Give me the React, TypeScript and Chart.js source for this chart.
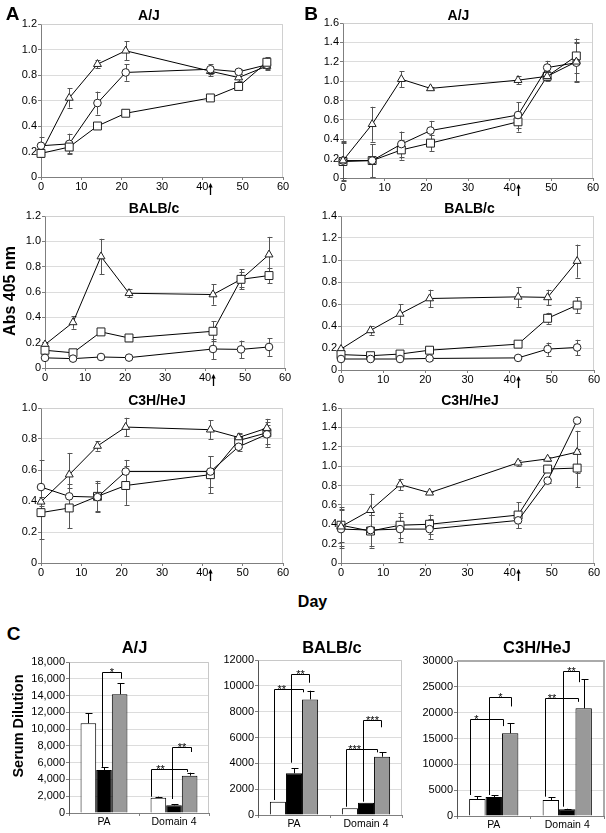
import React, { useEffect, useRef } from 'react';
import { Chart, registerables } from 'chart.js';

Chart.register(...registerables);

const FONT = '"Liberation Sans", Arial, Helvetica, sans-serif';
Chart.defaults.font.family = FONT;
Chart.defaults.color = '#000';

// ---------- Line charts (A, B) ----------
const DAYS = [0, 7, 14, 21, 42, 49, 56];
const BOOST_DAY = 42;
const X_TICKS = [0, 10, 20, 30, 40, 50, 60];

// Panel A, A/J
const A_AJ_TRI = [0.19, 0.62, 0.885, 0.99, 0.83, 0.78, 0.87];
const A_AJ_TRI_ERR = [0.02, 0.075, 0.03, 0.075, 0.04, 0.03, 0.03];
const A_AJ_CIRC = [0.245, 0.26, 0.58, 0.82, 0.845, 0.825, 0.88];
const A_AJ_CIRC_ERR = [0.07, 0.08, 0.09, 0.065, 0.04, 0.02, 0.03];
const A_AJ_SQ = [0.185, 0.235, 0.4, 0.5, 0.62, 0.71, 0.9];
const A_AJ_SQ_ERR = [0.03, 0.05, 0.01, 0.01, 0.01, 0.01, 0.04];

// Panel B, A/J
const B_AJ_TRI = [0.18, 0.555, 1.02, 0.925, 1.01, 1.05, 1.2];
const B_AJ_TRI_ERR = [0.18, 0.18, 0.08, 0.01, 0.04, 0.04, 0.2];
const B_AJ_CIRC = [0.18, 0.18, 0.35, 0.49, 0.65, 1.14, 1.19];
const B_AJ_CIRC_ERR = [0.2, 0.17, 0.13, 0.1, 0.13, 0.07, 0.2];
const B_AJ_SQ = [0.17, 0.18, 0.29, 0.36, 0.58, 1.05, 1.26];
const B_AJ_SQ_ERR = [0.2, 0.17, 0.1, 0.08, 0.1, 0.05, 0.18];

// Panel A, BALB/c
const A_BALB_TRI = [0.185, 0.36, 0.88, 0.59, 0.58, 0.7, 0.895];
const A_BALB_TRI_ERR = [0.01, 0.05, 0.14, 0.03, 0.08, 0.08, 0.14];
const A_BALB_SQ = [0.14, 0.12, 0.285, 0.237, 0.29, 0.7, 0.73];
const A_BALB_SQ_ERR = [0.01, 0.01, 0.01, 0.01, 0.08, 0.06, 0.06];
const A_BALB_CIRC = [0.08, 0.074, 0.087, 0.082, 0.15, 0.147, 0.166];
const A_BALB_CIRC_ERR = [0.01, 0.01, 0.01, 0.01, 0.08, 0.07, 0.07];

// Panel B, BALB/c
const B_BALB_TRI = [0.19, 0.36, 0.51, 0.65, 0.665, 0.66, 0.99];
const B_BALB_TRI_ERR = [0.01, 0.04, 0.09, 0.08, 0.09, 0.07, 0.15];
const B_BALB_SQ = [0.14, 0.13, 0.145, 0.18, 0.235, 0.47, 0.59];
const B_BALB_SQ_ERR = [0.01, 0.01, 0.01, 0.01, 0.03, 0.05, 0.07];
const B_BALB_CIRC = [0.1, 0.1, 0.1, 0.105, 0.11, 0.19, 0.205];
const B_BALB_CIRC_ERR = [0.01, 0.01, 0.01, 0.01, 0.01, 0.06, 0.07];

// Panel A, C3H/HeJ
const A_C3H_TRI = [0.395, 0.57, 0.755, 0.877, 0.86, 0.81, 0.87];
const A_C3H_TRI_ERR = [0.03, 0.14, 0.03, 0.06, 0.06, 0.03, 0.04];
const A_C3H_CIRC = [0.49, 0.43, 0.425, 0.59, 0.59, 0.75, 0.83];
const A_C3H_CIRC_ERR = [0.175, 0.08, 0.09, 0.075, 0.1, 0.03, 0.06];
const A_C3H_SQ = [0.325, 0.355, 0.43, 0.5, 0.57, 0.79, 0.84];
const A_C3H_SQ_ERR = [0.17, 0.13, 0.1, 0.125, 0.12, 0.04, 0.09];

// Panel B, C3H/HeJ
const B_C3H_TRI = [0.375, 0.545, 0.81, 0.725, 1.035, 1.075, 1.145];
const B_C3H_TRI_ERR = [0.2, 0.17, 0.06, 0.01, 0.03, 0.02, 0.22];
const B_C3H_SQ = [0.39, 0.33, 0.39, 0.4, 0.495, 0.97, 0.98];
const B_C3H_SQ_ERR = [0.17, 0.17, 0.13, 0.1, 0.13, 0.03, 0.2];
const B_C3H_CIRC = [0.35, 0.34, 0.35, 0.35, 0.44, 0.85, 1.47];
const B_C3H_CIRC_ERR = [0.2, 0.16, 0.13, 0.1, 0.08, 0.02, 0.01];

// ---------- Bar charts (C) ----------
const BAR_CATEGORIES = ['PA', 'Domain 4'];

const C_AJ_WHITE = [10690, 1830];
const C_AJ_WHITE_ERR = [1190, 120];
const C_AJ_BLACK = [5120, 920];
const C_AJ_BLACK_ERR = [330, 120];
const C_AJ_GREY = [14150, 4450];
const C_AJ_GREY_ERR = [1310, 350];

const C_BALB_WHITE = [1030, 520];
const C_BALB_WHITE_ERR = [0, 0];
const C_BALB_BLACK = [3230, 950];
const C_BALB_BLACK_ERR = [380, 0];
const C_BALB_GREY = [8950, 4510];
const C_BALB_GREY_ERR = [670, 340];

const C_C3H_WHITE = [3290, 3100];
const C_C3H_WHITE_ERR = [580, 500];
const C_C3H_BLACK = [3680, 1300];
const C_C3H_BLACK_ERR = [380, 100];
const C_C3H_GREY = [16000, 20840];
const C_C3H_GREY_ERR = [1940, 5660];

// significance brackets: category, from bar (dataset, fraction across bar), to bar, heights
const C_AJ_BRACKETS = [
  { cat: 0, a: 1, af: 0.4, b: 2, bf: 0.58, top: 16800, aBottom: 5500, bBottom: 16000, label: '*', lf: 0.5 },
  { cat: 1, a: 0, af: 0.05, b: 2, bf: 0.35, top: 5240, aBottom: 1940, bBottom: 4900, label: '**', lf: 0.25 },
  { cat: 1, a: 1, af: 0.4, b: 2, bf: 0.57, top: 7830, aBottom: 1670, bBottom: 7270, label: '**', lf: 0.5 },
];
const C_BALB_BRACKETS = [
  { cat: 0, a: 0, af: 0.25, b: 2, bf: 0.06, top: 9730, aBottom: 1160, bBottom: 9500, label: '**', lf: 0.25 },
  { cat: 0, a: 1, af: 0.3, b: 2, bf: 0.43, top: 10900, aBottom: 4050, bBottom: 10240, label: '**', lf: 0.5 },
  { cat: 1, a: 0, af: 0.27, b: 2, bf: 0.18, top: 5100, aBottom: 640, bBottom: 4850, label: '***', lf: 0.26 },
  { cat: 1, a: 1, af: 0.34, b: 2, bf: 0.43, top: 7350, aBottom: 1030, bBottom: 6790, label: '***', lf: 0.5 },
];
const C_C3H_BRACKETS = [
  { cat: 0, a: 0, af: 0.04, b: 2, bf: 0.06, top: 18770, aBottom: 4060, bBottom: 17400, label: '*', lf: 0.18 },
  { cat: 0, a: 1, af: 0.19, b: 2, bf: 0.54, top: 22970, aBottom: 4060, bBottom: 21200, label: '*', lf: 0.5 },
  { cat: 1, a: 0, af: 0.16, b: 2, bf: 0.16, top: 22900, aBottom: 3740, bBottom: 22100, label: '**', lf: 0.2 },
  { cat: 1, a: 1, af: 0.25, b: 2, bf: 0.2, top: 28100, aBottom: 1800, bBottom: 25900, label: '**', lf: 0.5 },
];

// ---------- plugins ----------
const errorBarsPlugin = {
  id: 'errorBars',
  _draw(chart: any, opts: any) {
    const ctx = chart.ctx;
    const ys = chart.scales.y;
    ctx.save();
    ctx.strokeStyle = opts.color || '#555';
    ctx.lineWidth = 1;
    chart.data.datasets.forEach((ds: any, di: number) => {
      const errs = ds.errors;
      if (!errs) return;
      const meta = chart.getDatasetMeta(di);
      meta.data.forEach((el: any, i: number) => {
        const e = errs[i];
        if (!e) return;
        const raw = ds.data[i];
        const v = typeof raw === 'number' ? raw : raw.y;
        const x = Math.round(el.x) + 0.5;
        const yTop = ys.getPixelForValue(v + e);
        const yBot = opts.upOnly ? ys.getPixelForValue(v) : ys.getPixelForValue(v - e);
        const cw = opts.cap || 2;
        ctx.beginPath();
        ctx.moveTo(x, yTop);
        ctx.lineTo(x, yBot);
        ctx.moveTo(x - cw, Math.round(yTop) + 0.5);
        ctx.lineTo(x + cw + 1, Math.round(yTop) + 0.5);
        if (!opts.upOnly) {
          ctx.moveTo(x - cw, Math.round(yBot) + 0.5);
          ctx.lineTo(x + cw + 1, Math.round(yBot) + 0.5);
        }
        ctx.stroke();
      });
    });
    ctx.restore();
  },
  beforeDatasetsDraw(chart: any, _a: any, opts: any) {
    if (!opts.upOnly) (errorBarsPlugin as any)._draw(chart, opts);
  },
  afterDatasetsDraw(chart: any, _a: any, opts: any) {
    if (opts.upOnly) (errorBarsPlugin as any)._draw(chart, opts);
  },
};

const framePlugin = {
  id: 'frame',
  beforeDatasetsDraw(chart: any, _a: any, opts: any) {
    const { ctx, chartArea } = chart;
    ctx.save();
    ctx.strokeStyle = opts.color || '#d0d0d0';
    ctx.lineWidth = opts.width || 1;
    const off = (opts.width || 1) % 2 ? 0.5 : 0;
    ctx.beginPath();
    ctx.moveTo(Math.round(chartArea.left) + off, Math.round(chartArea.top) + off);
    ctx.lineTo(Math.round(chartArea.right) - off, Math.round(chartArea.top) + off);
    ctx.lineTo(Math.round(chartArea.right) - off, Math.round(chartArea.bottom));
    ctx.stroke();
    ctx.restore();
  },
};

const arrowPlugin = {
  id: 'boostArrow',
  afterDraw(chart: any, _a: any, opts: any) {
    if (opts.day == null) return;
    const { ctx, chartArea } = chart;
    const x = Math.round(chart.scales.x.getPixelForValue(opts.day)) + 0.5;
    const y0 = chartArea.bottom + 6;
    const y1 = chartArea.bottom + 18;
    ctx.save();
    ctx.strokeStyle = '#000';
    ctx.fillStyle = '#000';
    ctx.lineWidth = 1.3;
    ctx.beginPath();
    ctx.moveTo(x, y1);
    ctx.lineTo(x, y0 + 3);
    ctx.stroke();
    ctx.beginPath();
    ctx.moveTo(x, y0);
    ctx.lineTo(x - 2.2, y0 + 4.5);
    ctx.lineTo(x + 2.2, y0 + 4.5);
    ctx.closePath();
    ctx.fill();
    ctx.restore();
  },
};

const bracketsPlugin = {
  id: 'brackets',
  afterDatasetsDraw(chart: any, _a: any, opts: any) {
    const items = opts.items || [];
    const { ctx } = chart;
    const ys = chart.scales.y;
    ctx.save();
    ctx.strokeStyle = '#000';
    ctx.fillStyle = '#000';
    ctx.lineWidth = 1;
    ctx.font = `11px ${FONT}`;
    ctx.textAlign = 'center';
    ctx.textBaseline = 'alphabetic';
    items.forEach((it: any) => {
      const ea = chart.getDatasetMeta(it.a).data[it.cat];
      const eb = chart.getDatasetMeta(it.b).data[it.cat];
      const x1 = Math.round(ea.x - ea.width / 2 + it.af * ea.width) + 0.5;
      const x2 = Math.round(eb.x - eb.width / 2 + it.bf * eb.width) + 0.5;
      const yt = Math.round(ys.getPixelForValue(it.top)) + 0.5;
      ctx.beginPath();
      ctx.moveTo(x1, ys.getPixelForValue(it.aBottom));
      ctx.lineTo(x1, yt);
      ctx.lineTo(x2, yt);
      ctx.lineTo(x2, ys.getPixelForValue(it.bBottom));
      ctx.stroke();
      ctx.fillText(it.label, x1 + (x2 - x1) * it.lf, yt + 3);
    });
    ctx.restore();
  },
};

// ---------- components ----------
type Rect = { l: number; r: number; t: number; b: number };
type LineSeries = { values: number[]; errors: number[]; marker: string };

const MARKER_RADIUS: Record<string, number> = { triangle: 4.6, circle: 3.8, rect: 5.6 };

function LinePanel({ plot, yMax, yStep, series }: { plot: Rect; yMax: number; yStep: number; series: LineSeries[] }) {
  const ref = useRef<HTMLCanvasElement>(null);
  const W = 34, H = 24, PT = 9, PR = 12;
  const left = plot.l - W, top = plot.t - PT;
  const width = plot.r - plot.l + W + PR;
  const height = plot.b - plot.t + PT + H;
  useEffect(() => {
    const chart = new Chart(ref.current as HTMLCanvasElement, {
      type: 'line',
      data: {
        datasets: series.map((s) => ({
          data: DAYS.map((d, i) => ({ x: d, y: s.values[i] })),
          errors: s.errors,
          pointStyle: s.marker,
          pointRadius: MARKER_RADIUS[s.marker],
          pointBackgroundColor: '#fff',
          pointBorderColor: '#222',
          pointBorderWidth: 1,
          borderColor: '#000',
          borderWidth: 1,
          tension: 0,
          clip: false,
        })) as any,
      },
      options: {
        responsive: false,
        animation: false,
        devicePixelRatio: 1,
        layout: { padding: { left: 0, top: PT, right: PR, bottom: 0 }, autoPadding: false },
        plugins: {
          legend: { display: false },
          tooltip: { enabled: false },
          errorBars: { color: '#555', cap: 2 },
          frame: { color: '#d0d0d0' },
          boostArrow: { day: BOOST_DAY },
        } as any,
        scales: {
          x: {
            type: 'linear',
            min: X_TICKS[0],
            max: X_TICKS[X_TICKS.length - 1],
            afterBuildTicks: (s: any) => { s.ticks = X_TICKS.map((v) => ({ value: v })); },
            ticks: { font: { size: 11 }, color: '#000', padding: 0, maxRotation: 0 },
            grid: { drawOnChartArea: false, tickLength: 3, color: '#7f7f7f' },
            border: { color: '#7f7f7f' },
            afterFit: (s: any) => { s.height = H; },
          },
          y: {
            min: 0,
            max: yMax,
            ticks: { stepSize: yStep, font: { size: 11 }, color: '#000', padding: 1 },
            grid: { color: '#dcdcdc', tickLength: 3, tickColor: '#7f7f7f' },
            border: { color: '#7f7f7f' },
            afterFit: (s: any) => { s.width = W; },
          },
        },
      } as any,
      plugins: [errorBarsPlugin as any, framePlugin as any, arrowPlugin as any],
    });
    return () => chart.destroy();
  }, []);
  return <canvas ref={ref} width={width} height={height} style={{ position: 'absolute', left, top, width, height }} />;
}

function BarPanel({ plot, yMax, yStep, sep, white, whiteErr, black, blackErr, grey, greyErr, brackets, frameWidth, frameColor }: any) {
  const ref = useRef<HTMLCanvasElement>(null);
  const W = 42, H = 18, PT = 9, PR = 2;
  const left = plot.l - W, top = plot.t - PT;
  const width = plot.r - plot.l + W + PR;
  const height = plot.b - plot.t + PT + H;
  useEffect(() => {
    const common = { borderColor: '#000', borderWidth: 1, categoryPercentage: 0.67, barPercentage: 1 };
    const chart = new Chart(ref.current as HTMLCanvasElement, {
      type: 'bar',
      data: {
        labels: BAR_CATEGORIES,
        datasets: [
          { ...common, data: white, errors: whiteErr, backgroundColor: '#fff' },
          { ...common, data: black, errors: blackErr, backgroundColor: '#000' },
          { ...common, data: grey, errors: greyErr, backgroundColor: '#999' },
        ] as any,
      },
      options: {
        responsive: false,
        animation: false,
        devicePixelRatio: 1,
        layout: { padding: { left: 0, top: PT, right: PR, bottom: 0 }, autoPadding: false },
        plugins: {
          legend: { display: false },
          tooltip: { enabled: false },
          errorBars: { color: '#000', cap: 3, upOnly: true },
          frame: { color: frameColor, width: frameWidth },
          brackets: { items: brackets },
        } as any,
        scales: {
          x: {
            ticks: { font: { size: 10.5 }, color: '#000', padding: 0 },
            grid: { offset: true, drawOnChartArea: false, tickLength: 3, color: '#7f7f7f' },
            border: { color: '#7f7f7f' },
            afterFit: (s: any) => { s.height = H; },
          },
          y: {
            min: 0,
            max: yMax,
            ticks: {
              stepSize: yStep,
              font: { size: 11 },
              color: '#000',
              padding: 1,
              callback: (v: any) => (sep ? Number(v).toLocaleString('en-US') : String(v)),
            },
            grid: { color: '#dcdcdc', tickLength: 3, tickColor: '#7f7f7f' },
            border: { color: '#555' },
            afterFit: (s: any) => { s.width = W; },
          },
        },
      } as any,
      plugins: [framePlugin as any, errorBarsPlugin as any, bracketsPlugin as any],
    });
    return () => chart.destroy();
  }, []);
  return <canvas ref={ref} width={width} height={height} style={{ position: 'absolute', left, top, width, height }} />;
}

function Label({ x, y, text, size, rotate }: { x: number; y: number; text: string; size: number; rotate?: boolean }) {
  return (
    <div
      style={{
        position: 'absolute',
        left: x,
        top: y,
        transform: `translate(-50%, -50%)${rotate ? ' rotate(-90deg)' : ''}`,
        font: `bold ${size}px ${FONT}`,
        lineHeight: 1,
        whiteSpace: 'nowrap',
        color: '#000',
      }}
    >
      {text}
    </div>
  );
}

export default function App() {
  return (
    <div style={{ position: 'absolute', left: 0, top: 0, width: 606, height: 833, background: '#fff', overflow: 'hidden' }}>
      <LinePanel
        plot={{ l: 41, r: 283, t: 24, b: 177 }}
        yMax={1.2}
        yStep={0.2}
        series={[
          { values: A_AJ_SQ, errors: A_AJ_SQ_ERR, marker: 'rect' },
          { values: A_AJ_CIRC, errors: A_AJ_CIRC_ERR, marker: 'circle' },
          { values: A_AJ_TRI, errors: A_AJ_TRI_ERR, marker: 'triangle' },
        ]}
      />
      <LinePanel
        plot={{ l: 343, r: 593, t: 23, b: 178 }}
        yMax={1.6}
        yStep={0.2}
        series={[
          { values: B_AJ_TRI, errors: B_AJ_TRI_ERR, marker: 'triangle' },
          { values: B_AJ_CIRC, errors: B_AJ_CIRC_ERR, marker: 'circle' },
          { values: B_AJ_SQ, errors: B_AJ_SQ_ERR, marker: 'rect' },
        ]}
      />
      <LinePanel
        plot={{ l: 45, r: 285, t: 216, b: 368 }}
        yMax={1.2}
        yStep={0.2}
        series={[
          { values: A_BALB_CIRC, errors: A_BALB_CIRC_ERR, marker: 'circle' },
          { values: A_BALB_SQ, errors: A_BALB_SQ_ERR, marker: 'rect' },
          { values: A_BALB_TRI, errors: A_BALB_TRI_ERR, marker: 'triangle' },
        ]}
      />
      <LinePanel
        plot={{ l: 341, r: 594, t: 216, b: 370 }}
        yMax={1.4}
        yStep={0.2}
        series={[
          { values: B_BALB_CIRC, errors: B_BALB_CIRC_ERR, marker: 'circle' },
          { values: B_BALB_SQ, errors: B_BALB_SQ_ERR, marker: 'rect' },
          { values: B_BALB_TRI, errors: B_BALB_TRI_ERR, marker: 'triangle' },
        ]}
      />
      <LinePanel
        plot={{ l: 41, r: 283, t: 408, b: 563 }}
        yMax={1}
        yStep={0.2}
        series={[
          { values: A_C3H_TRI, errors: A_C3H_TRI_ERR, marker: 'triangle' },
          { values: A_C3H_CIRC, errors: A_C3H_CIRC_ERR, marker: 'circle' },
          { values: A_C3H_SQ, errors: A_C3H_SQ_ERR, marker: 'rect' },
        ]}
      />
      <LinePanel
        plot={{ l: 341, r: 594, t: 408, b: 563 }}
        yMax={1.6}
        yStep={0.2}
        series={[
          { values: B_C3H_TRI, errors: B_C3H_TRI_ERR, marker: 'triangle' },
          { values: B_C3H_CIRC, errors: B_C3H_CIRC_ERR, marker: 'circle' },
          { values: B_C3H_SQ, errors: B_C3H_SQ_ERR, marker: 'rect' },
        ]}
      />

      <BarPanel
        plot={{ l: 69, r: 209, t: 662, b: 813 }}
        yMax={18000}
        yStep={2000}
        sep
        white={C_AJ_WHITE} whiteErr={C_AJ_WHITE_ERR}
        black={C_AJ_BLACK} blackErr={C_AJ_BLACK_ERR}
        grey={C_AJ_GREY} greyErr={C_AJ_GREY_ERR}
        brackets={C_AJ_BRACKETS}
        frameColor="#c8c8c8" frameWidth={1}
      />
      <BarPanel
        plot={{ l: 258, r: 402, t: 660, b: 815 }}
        yMax={12000}
        yStep={2000}
        sep={false}
        white={C_BALB_WHITE} whiteErr={C_BALB_WHITE_ERR}
        black={C_BALB_BLACK} blackErr={C_BALB_BLACK_ERR}
        grey={C_BALB_GREY} greyErr={C_BALB_GREY_ERR}
        brackets={C_BALB_BRACKETS}
        frameColor="#c8c8c8" frameWidth={1}
      />
      <BarPanel
        plot={{ l: 457, r: 604, t: 661, b: 816 }}
        yMax={30000}
        yStep={5000}
        sep={false}
        white={C_C3H_WHITE} whiteErr={C_C3H_WHITE_ERR}
        black={C_C3H_BLACK} blackErr={C_C3H_BLACK_ERR}
        grey={C_C3H_GREY} greyErr={C_C3H_GREY_ERR}
        brackets={C_C3H_BRACKETS}
        frameColor="#aaaaaa" frameWidth={2}
      />

      <Label x={12.5} y={12.5} text="A" size={19} />
      <Label x={311} y={12.5} text="B" size={19} />
      <Label x={13.5} y={633} text="C" size={19} />

      <Label x={149} y={15} text="A/J" size={14} />
      <Label x={458.5} y={15} text="A/J" size={14} />
      <Label x={154} y={208} text="BALB/c" size={14} />
      <Label x={469.5} y={208} text="BALB/c" size={14} />
      <Label x={157} y={400} text="C3H/HeJ" size={14} />
      <Label x={470} y={400} text="C3H/HeJ" size={14} />

      <Label x={10} y={291} text="Abs 405 nm" size={16} rotate />
      <Label x={312.5} y={602} text="Day" size={16} />
      <Label x={17.5} y={726} text="Serum Dilution" size={14.5} rotate />

      <Label x={134.5} y={647} text="A/J" size={16.5} />
      <Label x={332} y={647} text="BALB/c" size={16.5} />
      <Label x={537} y={647} text="C3H/HeJ" size={16.5} />
    </div>
  );
}
